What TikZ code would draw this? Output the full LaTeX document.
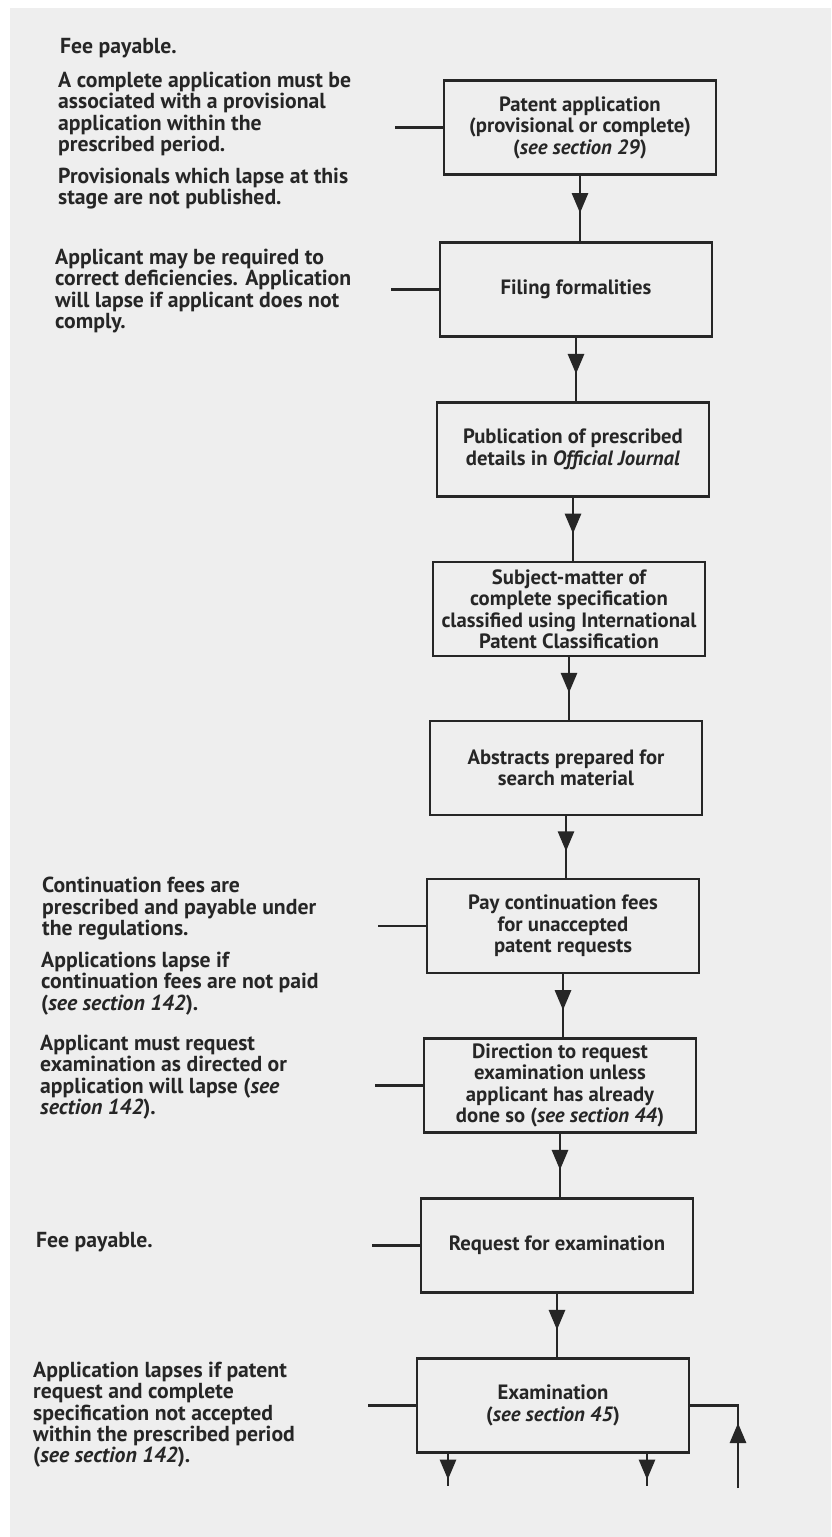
\documentclass[tikz,border=0pt]{standalone}
\usepackage{fontspec}
\setmainfont{PT Sans}
\usetikzlibrary{arrows.meta,decorations.markings}

\definecolor{paper}{RGB}{238,238,238}
\definecolor{ink}{RGB}{38,38,38}

\tikzset{
  stage/.style={draw, line width=2.8pt, minimum width=272pt, minimum height=94pt,
    align=center, inner sep=0pt, font=\fontsize{20.7}{21.5}\selectfont\bfseries},
  note/.style={anchor=north west, align=left, inner sep=0pt,
    font=\fontsize{21.7}{21.3}\selectfont\bfseries},
  flow/.style={line width=2.8pt, postaction={decorate},
    decoration={markings, mark=at position #1 with {\arrow{Triangle[width=16pt,length=20pt]}}}},
  flow/.default=0.57,
  feed/.style={line width=2.8pt}
}

\begin{document}
\begin{tikzpicture}[x=1pt, y=-1pt, color=ink]
  \fill[white] (0,0) rectangle (831,1537);
  \fill[paper] (10,8) rectangle (831,1537);
  \useasboundingbox (0,0) rectangle (831,1537);

  % stages
  \node[stage] (pat) at (580,127.5) {Patent application\\(provisional or complete)\\(\textit{see section 29})};
  \node[stage] (fil) at (576,289.5) {Filing formalities};
  \node[stage] (pub) at (573,449.5) {Publication of prescribed\\details in \textit{Official Journal}};
  \node[stage] (cls) at (569,609) {Subject-matter of\\complete specification\\classified using International\\Patent Classification};
  \node[stage] (abs) at (566,768) {Abstracts prepared for\\search material};
  \node[stage] (pay) at (563,926) {Pay continuation fees\\for unaccepted\\patent requests};
  \node[stage] (dir) at (560,1085.5) {Direction to request\\examination unless\\applicant has already\\done so (\textit{see section 44})};
  \node[stage] (req) at (557,1245.5) {Request for examination};
  \node[stage] (exa) at (553,1405.5) {Examination\\(\textit{see section 45})};

  % notes
  \node[note] (fee1) at (60,38) {Fee payable.};
  \node[note] (compl) at (58,72) {A complete application must be\\associated with a provisional\\application within the\\prescribed period.};
  \node[note] (prov) at (58,168) {Provisionals which lapse at this\\stage are not published.};
  \node[note] (defic) at (55,249) {Applicant may be required to\\correct deficiencies. Application\\will lapse if applicant does not\\comply.};
  \node[note] (contfee) at (42,877) {Continuation fees are\\prescribed and payable under\\the regulations.};
  \node[note] (lapse) at (41,952) {Applications lapse if\\continuation fees are not paid\\(\textit{see section 142}).};
  \node[note] (reqexam) at (40,1035) {Applicant must request\\examination as directed or\\application will lapse (\textit{see}\\\textit{section 142}).};
  \node[note] (fee2) at (36,1232) {Fee payable.};
  \node[note] (exlapse) at (33,1362) {Application lapses if patent\\request and complete\\specification not accepted\\within the prescribed period\\(\textit{see section 142}).};

  % main line
  \draw[flow] (pat.south) -- (pat.south |- fil.north);
  \draw[flow] (fil.south) -- (fil.south |- pub.north);
  \draw[flow] (pub.south) -- (pub.south |- cls.north);
  \draw[flow] (cls.south) -- (cls.south |- abs.north);
  \draw[flow] (abs.south) -- (abs.south |- pay.north);
  \draw[flow] (pay.south) -- (pay.south |- dir.north);
  \draw[flow] (dir.south) -- (dir.south |- req.north);
  \draw[flow] (req.south) -- (req.south |- exa.north);

  % side inputs
  \foreach \s in {pat,fil,pay,dir,req,exa}
    \draw[feed] (\s.west) -- ++(-48,0);

  % outputs of examination
  \coordinate (out1) at (448,1486);
  \coordinate (out2) at (647,1486);
  \coordinate (back) at (738,1488);
  \draw[flow=0.8] (exa.south -| out1) -- (out1);
  \draw[flow=0.8] (exa.south -| out2) -- (out2);
  \draw[flow=65pt] (back) -- (back |- exa.east) -- (exa.east);
\end{tikzpicture}
\end{document}
